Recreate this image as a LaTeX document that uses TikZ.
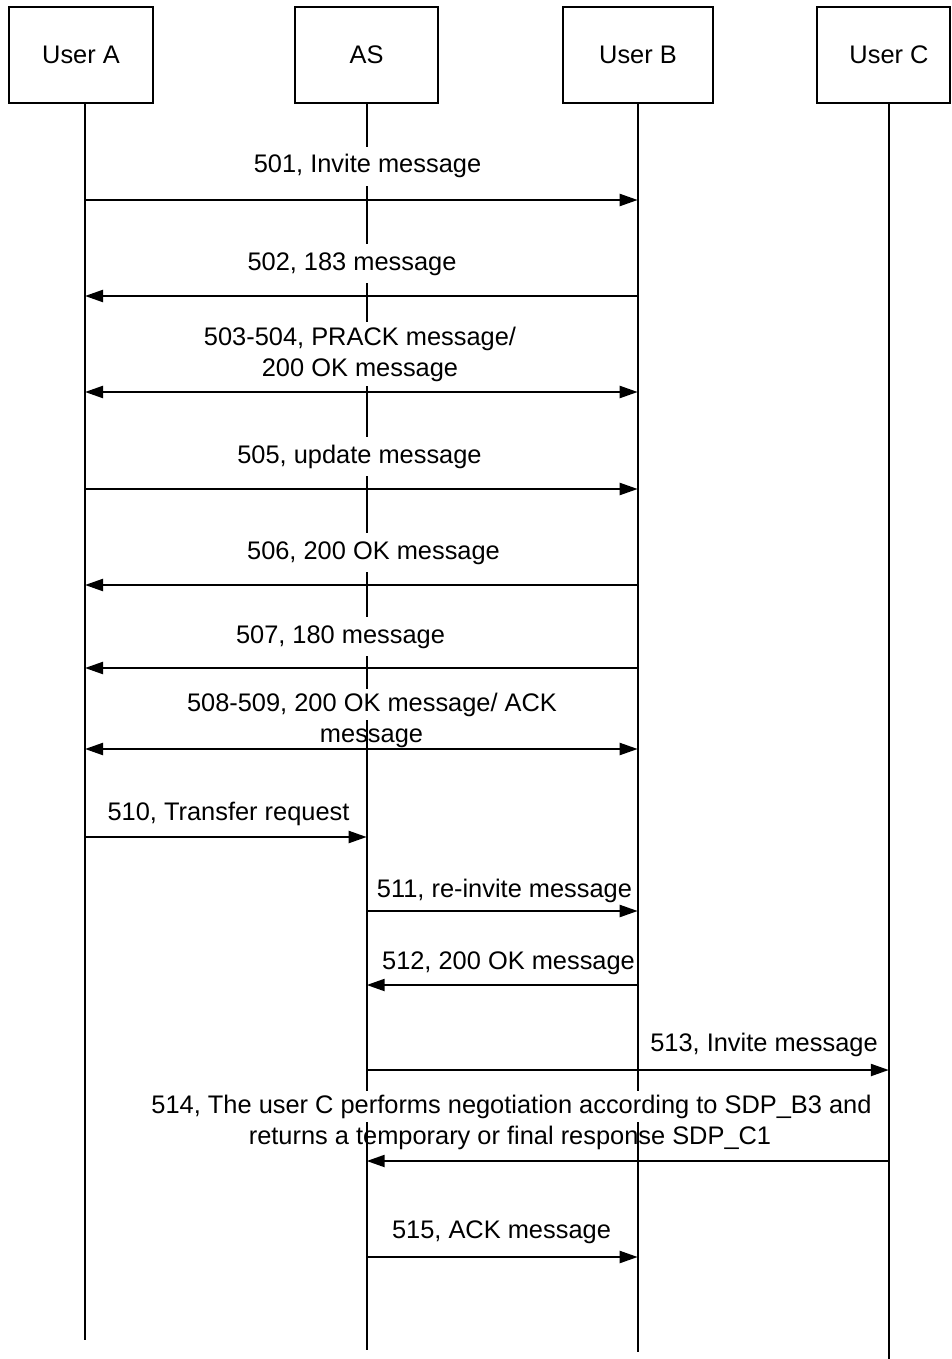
\documentclass[tikz,border=0pt]{standalone}
\usepackage{fontspec}
\setmainfont{Liberation Sans}
\usetikzlibrary{arrows.meta}
\begin{document}
\begin{tikzpicture}[x=1pt,y=-1pt,
  every node/.style={font=\fontsize{25.4}{31}\selectfont},
  actor/.style={draw, line width=1.6pt, minimum height=96pt, inner sep=0pt},
  life/.style={line width=1.6pt},
  tip/.tip={Triangle[length=18pt,width=12pt]},
  msg/.style={line width=2.2pt, -tip},
  dmsg/.style={line width=2.2pt, tip-tip},
  lbl/.style={anchor=base, inner xsep=2pt, inner ysep=0pt},
  mask/.style={lbl, fill=white, inner ysep=8pt}
]
\useasboundingbox (0,0) rectangle (951,1359);

% participants
\node[actor, minimum width=144pt] (ua) at (81,55) {User A};
\node[actor, minimum width=143pt] (as) at (366.5,55) {AS};
\node[actor, minimum width=150pt] (ub) at (638,55) {User B};
\node[actor, minimum width=133pt, label={[name=ucl, xshift=5.5pt]center:User C}] (uc) at (883.5,55) {};

% lifeline ends
\coordinate (ua-end) at (85,1340);
\coordinate (as-end) at (366.7,1350);
\coordinate (ub-end) at (637.7,1352);
\coordinate (uc-end) at (888.8,1359);

% lifelines, kept vertical under each box
\draw[life] (ua-end |- ua.south) -- (ua-end);
\draw[life] (as-end |- as.south) -- (as-end);
\draw[life] (ub-end |- ub.south) -- (ub-end);
\draw[life] (uc-end |- uc.south) -- (uc-end);

% message labels (a two-line node sits on the baseline of its last line)
\node[mask] (l501) at (367.5,173) {501, Invite message};
\node[mask] (l502) at (352,270) {502, 183 message};
\node[mask, inner ysep=5pt, align=center] (l503) at (360,376) {503-504, PRACK message/\\200 OK message};
\node[mask] (l505) at (359.5,463) {505, update message};
\node[mask] (l506) at (373.5,559) {506, 200 OK message};
\node[mask] (l507) at (340.5,643) {507, 180 message};
\node[mask, inner ysep=4pt] (l508a) at (372,711) {508-509, 200 OK message/ ACK};
\node[lbl] (l508b) at (371.5,742) {message};
\node[lbl] (l510) at (228.5,820) {510, Transfer request};
\node[lbl] (l511) at (504.5,897) {511, re-invite message};
\node[lbl] (l512) at (508.5,969) {512, 200 OK message};
\node[lbl] (l513) at (764,1051) {513, Invite message};
\node[mask, inner ysep=4pt] (l514a) at (511.5,1113) {514, The user C performs negotiation according to SDP\_B3 and};
\node[lbl] (l514b) at (510,1144) {returns a temporary or final response SDP\_C1};
\node[lbl] (l515) at (501.5,1238) {515, ACK message};

% message rows
\coordinate (y501) at (0,200);
\coordinate (y502) at (0,296);
\coordinate (y503) at (0,392);
\coordinate (y505) at (0,489);
\coordinate (y506) at (0,585);
\coordinate (y507) at (0,668);
\coordinate (y508) at (0,749);
\coordinate (y510) at (0,837);
\coordinate (y511) at (0,911);
\coordinate (y512) at (0,985);
\coordinate (y513) at (0,1070);
\coordinate (y514) at (0,1161);
\coordinate (y515) at (0,1257);

% messages
\draw[msg]  (ua-end |- y501) -- (ub-end |- y501);
\draw[msg]  (ub-end |- y502) -- (ua-end |- y502);
\draw[dmsg] (ua-end |- y503) -- (ub-end |- y503);
\draw[msg]  (ua-end |- y505) -- (ub-end |- y505);
\draw[msg]  (ub-end |- y506) -- (ua-end |- y506);
\draw[msg]  (ub-end |- y507) -- (ua-end |- y507);
\draw[dmsg] (ua-end |- y508) -- (ub-end |- y508);
\draw[msg]  (ua-end |- y510) -- (as-end |- y510);
\draw[msg]  (as-end |- y511) -- (ub-end |- y511);
\draw[msg]  (ub-end |- y512) -- (as-end |- y512);
\draw[msg]  (as-end |- y513) -- (uc-end |- y513);
\draw[msg]  (uc-end |- y514) -- (as-end |- y514);
\draw[msg]  (as-end |- y515) -- (ub-end |- y515);
\end{tikzpicture}
\end{document}
